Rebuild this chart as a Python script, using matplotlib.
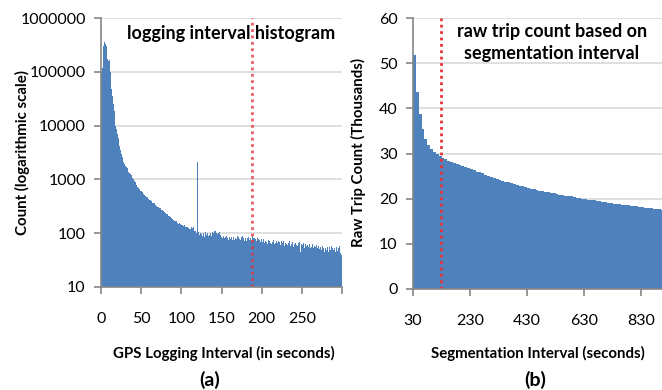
import numpy as np
import matplotlib
matplotlib.use("Agg")
import matplotlib.pyplot as plt
from matplotlib.ticker import FixedLocator, FixedFormatter, NullLocator

# --- (a) logging interval histogram: count per 1-second bin, 0..299 s ---
log_counts = [
    100000, 120000, 150000, 300000, 360000, 330000, 300000, 270000, 170000, 160000,
    165000, 100000, 70000, 48000, 35000, 25000, 19000, 13000, 10000, 8500,
    7000, 6000, 5000, 4200, 3500, 3000, 2600, 2300, 2100, 1900,
    1800, 1700, 1600, 1500, 1400, 1300, 1250, 1200, 1100, 1050,
    1000, 950, 900, 850, 780, 720, 680, 650, 700, 620,
    600, 580, 540, 515, 520, 490, 470, 480, 455, 440,
    420, 410, 400, 380, 370, 360, 365, 340, 330, 320,
    310, 305, 295, 285, 300, 270, 265, 255, 250, 245,
    235, 230, 225, 215, 210, 205, 200, 195, 185, 180,
    176, 170, 165, 168, 160, 155, 150, 158, 148, 145,
    142, 140, 138, 145, 135, 132, 130, 128, 125, 122,
    120, 118, 128, 125, 132, 130, 112, 108, 102, 98,
    2150, 105, 92, 100, 112, 96, 90, 102, 86, 95,
    106, 94, 100, 88, 110, 93, 100, 90, 106, 96,
    100, 110, 112, 100, 106, 96, 100, 105, 94, 86,
    86, 82, 90, 80, 86, 78, 88, 82, 76, 85,
    82, 78, 86, 76, 85, 80, 74, 83, 78, 87,
    77, 85, 79, 74, 84, 77, 88, 80, 73, 83,
    78, 72, 81, 86, 75, 80, 83, 73, 88, 80,
    75, 83, 77, 72, 81, 70, 79, 74, 68, 79,
    74, 68, 77, 66, 73, 79, 69, 64, 75, 71,
    67, 74, 64, 70, 76, 62, 70, 67, 73, 65,
    71, 62, 68, 60, 73, 65, 64, 71, 57, 67,
    63, 69, 61, 66, 71, 58, 65, 62, 69, 55,
    64, 59, 67, 61, 57, 65, 59, 68, 45, 62,
    60, 57, 65, 53, 63, 59, 50, 61, 56, 63,
    54, 61, 56, 63, 53, 58, 48, 56, 61, 52,
    57, 50, 59, 55, 48, 57, 52, 46, 44, 53,
    49, 56, 52, 45, 55, 49, 57, 43, 53, 48,
    54, 45, 50, 56, 47, 53, 57, 50, 42, 40,
]
log_seconds = list(range(len(log_counts)))
log_cut = 188

# --- (b) raw trip count (thousands) vs segmentation interval ---
seg_interval = list(range(30, 901, 10))
trip_count = [
    51.7, 43.6, 38.8, 35.5, 33.3, 31.9, 31.0, 30.3, 29.8, 29.4, 29.0,
    28.7, 28.4, 28.2, 28.0, 27.7, 27.5, 27.3, 27.0, 26.8, 26.5,
    26.3, 26.0, 25.8, 25.6, 25.3, 25.1, 24.9, 24.6, 24.4, 24.2,
    24.0, 23.8, 23.6, 23.4, 23.2, 23.0, 22.9, 22.7, 22.5, 22.4,
    22.2, 22.1, 21.9, 21.8, 21.7, 21.5, 21.4, 21.3, 21.2, 21.0,
    20.9, 20.8, 20.7, 20.6, 20.5, 20.3, 20.2, 20.1, 20.0, 19.9,
    19.8, 19.7, 19.6, 19.5, 19.4, 19.3, 19.2, 19.1, 19.0, 18.9,
    18.85, 18.8, 18.7, 18.6, 18.5, 18.4, 18.35, 18.3, 18.2, 18.1,
    18.0, 17.95, 17.9, 17.8, 17.75, 17.7, 17.6,
]
seg_cut = 127

BLUE = "#4F81BD"
RED = "#E8333A"
GRID = "#D9D9D9"
AXIS = "#868686"
FONT = "Lato"

W, H = 662, 390
fig = plt.figure(figsize=(W / 100, H / 100), dpi=100)
plt.rcParams["font.family"] = [FONT, "DejaVu Sans"]


def px_axes(x0, x1, y_top, y_bot):
    return fig.add_axes([x0 / W, 1 - y_bot / H, (x1 - x0) / W, (y_bot - y_top) / H])


def style(ax):
    for s in ["top", "right"]:
        ax.spines[s].set_visible(False)
    for s in ["left", "bottom"]:
        ax.spines[s].set_color(AXIS)
        ax.spines[s].set_linewidth(1.2)
    ax.set_axisbelow(True)
    ax.yaxis.grid(True, color=GRID, linewidth=1.2)
    ax.tick_params(axis="both", which="major", colors=AXIS, length=5, width=1.2,
                   direction="out", labelcolor="black", labelsize=11.5)
    ax.tick_params(axis="x", pad=13)
    ax.tick_params(axis="y", pad=6)


# ---- (a) ----
ax1 = px_axes(101, 342, 18, 287)
ax1.set_yscale("log")
ax1.bar(log_seconds, log_counts, width=1.0, align="edge", color=BLUE, linewidth=0)
ax1.set_xlim(0, 300)
ax1.set_ylim(10, 1e6)
yt = [10, 100, 1000, 10000, 100000, 1000000]
ax1.yaxis.set_major_locator(FixedLocator(yt))
ax1.yaxis.set_major_formatter(FixedFormatter([str(v) for v in yt]))
ax1.yaxis.set_minor_locator(NullLocator())
ax1.set_xticks([0, 50, 100, 150, 200, 250, 300])
ax1.set_xticklabels(["0", "50", "100", "150", "200", "250", ""])
ax1.axvline(log_cut, color=RED, linestyle=(0, (1, 1.3)), linewidth=2, alpha=0.8)
style(ax1)
fig.text(231 / W, 1 - 34 / H, "logging interval histogram", ha="center", va="center",
         fontsize=13, fontweight="bold")

# ---- (b) ----
ax2 = px_axes(413, 662, 18, 289)
ax2.bar(seg_interval, trip_count, width=10, align="edge", color=BLUE, linewidth=0)
ax2.set_xlim(30, 903)
ax2.set_ylim(0, 60)
ax2.set_yticks([0, 10, 20, 30, 40, 50, 60])
ax2.set_xticks([30, 230, 430, 630, 830])
ax2.axvline(seg_cut, color=RED, linestyle=(0, (1, 1.3)), linewidth=2)
style(ax2)
fig.text(552 / W, 1 - 31 / H, "raw trip count based on", ha="center", va="center",
         fontsize=13, fontweight="bold")
fig.text(552 / W, 1 - 53 / H, "segmentation interval", ha="center", va="center",
         fontsize=13, fontweight="bold")

# axis titles
fig.text(22 / W, 1 - 153 / H, "Count (logarithmic scale)", rotation=90,
         ha="center", va="center", fontsize=10.8, fontweight="bold")
fig.text(358 / W, 1 - 153 / H, "Raw Trip Count (Thousands)", rotation=90,
         ha="center", va="center", fontsize=10.8, fontweight="bold")
fig.text(224 / W, 1 - 353 / H, "GPS Logging Interval (in seconds)",
         ha="center", va="center", fontsize=10.8, fontweight="bold")
fig.text(538 / W, 1 - 353 / H, "Segmentation Interval (seconds)",
         ha="center", va="center", fontsize=10.8, fontweight="bold")
fig.text(210 / W, 1 - 380 / H, "(a)", ha="center", va="center",
         fontsize=14, fontweight="bold")
fig.text(535 / W, 1 - 380 / H, "(b)", ha="center", va="center",
         fontsize=14, fontweight="bold")

fig.savefig("out.png", dpi=100)
